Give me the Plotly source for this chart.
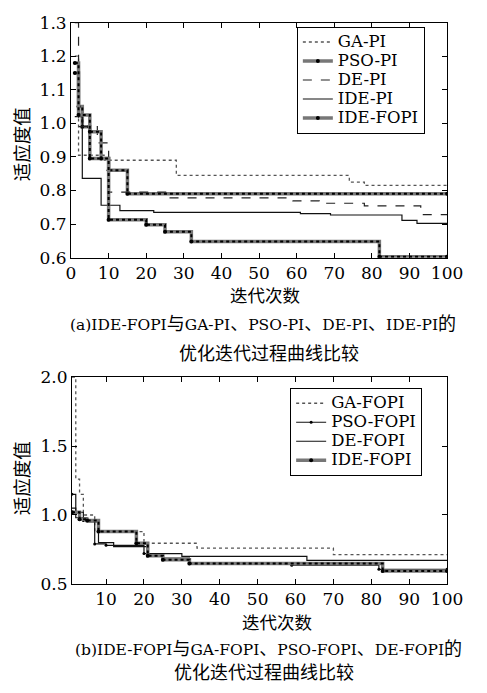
import re
import plotly.graph_objects as go

# ---------------- data (a) ----------------
ga_pi_x = [1, 2, 9, 28, 74, 78, 100]
ga_pi_y = [1.20, 0.905, 0.89, 0.845, 0.825, 0.815, 0.815]
pso_pi_x = [1, 2, 3, 5, 10, 15, 100]
pso_pi_y = [1.15, 1.05, 0.99, 0.895, 0.86, 0.79, 0.79]
de_pi_x = [1, 2, 7, 10, 26, 59, 66, 78, 93, 100]
de_pi_y = [1.30, 0.99, 0.942, 0.795, 0.778, 0.769, 0.762, 0.754, 0.728, 0.728]
ide_pi_x = [1, 3, 8, 13, 22, 61, 69, 88, 92, 100]
ide_pi_y = [1.02, 0.836, 0.756, 0.74, 0.735, 0.731, 0.727, 0.711, 0.702, 0.702]
ide_fopi_a_x = [1, 2, 5, 8, 10, 20, 25, 32, 82, 100]
ide_fopi_a_y = [1.18, 1.025, 0.975, 0.895, 0.713, 0.698, 0.677, 0.648, 0.603, 0.603]

# ---------------- data (b) ----------------
ga_fopi_x = [1, 2, 3, 4, 7, 20, 34, 70, 100]
ga_fopi_y = [2.0, 1.26, 1.15, 1.0, 0.88, 0.795, 0.76, 0.713, 0.713]
pso_fopi_x = [1, 2, 4, 7, 10, 20, 25, 32, 59, 82, 100]
pso_fopi_y = [1.15, 1.02, 0.96, 0.79, 0.78, 0.72, 0.688, 0.655, 0.636, 0.606, 0.606]
de_fopi_x = [1, 2, 5, 8, 12, 21, 30, 63, 100]
de_fopi_y = [1.05, 0.98, 0.95, 0.80, 0.77, 0.72, 0.70, 0.671, 0.671]
ide_fopi_b_x = [1, 3, 5, 8, 18, 21, 25, 32, 83, 100]
ide_fopi_b_y = [1.02, 0.97, 0.96, 0.88, 0.795, 0.705, 0.676, 0.648, 0.594, 0.594]

yticks_a = [0.6, 0.7, 0.8, 0.9, 1.0, 1.1, 1.2, 1.3]
yticks_b = [0.5, 1.0, 1.5, 2.0]
xticks_a = list(range(0, 101, 10))
xticks_b = list(range(10, 101, 10))

cap_a1 = "(a)IDE-FOPI与GA-PI、PSO-PI、DE-PI、IDE-PI的"
cap_a2 = "优化迭代过程曲线比较"
cap_b1 = "(b)IDE-FOPI与GA-FOPI、PSO-FOPI、DE-FOPI的"
cap_b2 = "优化迭代过程曲线比较"
ytitle = "适应度值"
xtitle = "迭代次数"

W, H = 487, 693
SERIF = "DejaVu Serif"
CJK = "Noto Sans CJK SC"

fig = go.Figure()


def lname(name):
    return '<span style="font-size:16.5px">%s</span>' % name


def add_series(x, y, name, style, xa, ya, legend):
    common = dict(x=x, y=y, xaxis=xa, yaxis=ya, legend=legend,
                  line_shape="hv", name=lname(name))
    if style == "dot":
        fig.add_trace(go.Scatter(mode="lines", line=dict(color="#555", width=1.3, dash="dot"), **common))
    elif style == "dash":
        fig.add_trace(go.Scatter(mode="lines", line=dict(color="#222", width=1.2, dash="dash"), **common))
    elif style == "solid":
        fig.add_trace(go.Scatter(mode="lines", line=dict(color="#111", width=1.2), **common))
    elif style == "soliddot":
        fig.add_trace(go.Scatter(mode="lines+markers", line=dict(color="#111", width=1.2),
                                 marker=dict(color="#000", size=3), **common))
    elif style == "thick":
        fig.add_trace(go.Scatter(mode="lines+markers", line=dict(color="#777", width=3.5),
                                 marker=dict(color="#000", size=4), **common))
        c2 = dict(common)
        fig.add_trace(go.Scatter(mode="lines", line=dict(color="#000", width=2, dash="dot"),
                                 showlegend=False, **c2))


add_series(ga_pi_x, ga_pi_y, "GA-PI", "dot", "x", "y", "legend")
add_series(pso_pi_x, pso_pi_y, "PSO-PI", "thick", "x", "y", "legend")
add_series(de_pi_x, de_pi_y, "DE-PI", "dash", "x", "y", "legend")
add_series(ide_pi_x, ide_pi_y, "IDE-PI", "solid", "x", "y", "legend")
add_series(ide_fopi_a_x, ide_fopi_a_y, "IDE-FOPI", "thick", "x", "y", "legend")

add_series(ga_fopi_x, ga_fopi_y, "GA-FOPI", "dot", "x2", "y2", "legend2")
add_series(pso_fopi_x, pso_fopi_y, "PSO-FOPI", "soliddot", "x2", "y2", "legend2")
add_series(de_fopi_x, de_fopi_y, "DE-FOPI", "solid", "x2", "y2", "legend2")
add_series(ide_fopi_b_x, ide_fopi_b_y, "IDE-FOPI", "thick", "x2", "y2", "legend2")

axis_common = dict(showline=True, linecolor="black", linewidth=1, mirror="ticks",
                   ticks="inside", ticklen=5, tickcolor="black", showgrid=False,
                   zeroline=False, tickfont=dict(family=SERIF, size=17, color="black"))

legend_common = dict(xanchor="left", yanchor="top", bordercolor="black", borderwidth=1,
                     bgcolor="white", font=dict(family=SERIF, size=11.5, color="black"),
                     itemwidth=30, tracegroupgap=0)

fig.update_layout(
    width=W, height=H, margin=dict(l=0, r=0, t=0, b=0),
    paper_bgcolor="white", plot_bgcolor="white",
    xaxis=dict(domain=[69 / W, 462 / W], range=[0, 100], tickvals=xticks_a,
               anchor="y", **axis_common),
    yaxis=dict(domain=[1 - 255 / H, 1 - 13 / H], range=[0.6, 1.3], tickvals=yticks_a,
               tickformat=".1f", anchor="x", **axis_common),
    xaxis2=dict(domain=[70 / W, 462 / W], range=[1, 100], tickvals=xticks_b,
                anchor="y2", **axis_common),
    yaxis2=dict(domain=[1 - 591 / H, 1 - 378 / H], range=[0.5, 2.0], tickvals=yticks_b,
                tickformat=".1f", anchor="x2", **axis_common),
    legend=dict(x=305 / W, y=1 - 17 / H, **legend_common),
    legend2=dict(x=298 / W, y=1 - 389 / H, **legend_common),
)


def mixed(s, latin_size=15.5):
    parts = re.split(r"([\x00-\x7f]+)", s)
    out = []
    for p in parts:
        if not p:
            continue
        if re.match(r"[\x00-\x7f]+$", p):
            out.append('<span style="font-family:%s;font-size:%spx">%s</span>' % (SERIF, latin_size, p))
        else:
            out.append(p)
    return "".join(out)


def ann(text, cx, cy, size=18, angle=0):
    fig.add_annotation(text=text, x=cx / W, y=1 - cy / H, xref="paper", yref="paper",
                       showarrow=False, xanchor="center", yanchor="middle", textangle=angle,
                       font=dict(family=CJK, size=size, color="black"))


ann(ytitle, 17, 138, size=18.5, angle=-90)
ann(ytitle, 17, 482, size=18.5, angle=-90)
ann(xtitle, 272, 293, size=17.5)
ann(xtitle, 284, 630, size=17.5)
ann(mixed(cap_a1), 270, 321, size=18)
ann(cap_a2, 276, 352, size=18)
ann(mixed(cap_b1), 275, 656, size=18)
ann(cap_b2, 271, 681, size=18)

fig.write_html("out.html")
